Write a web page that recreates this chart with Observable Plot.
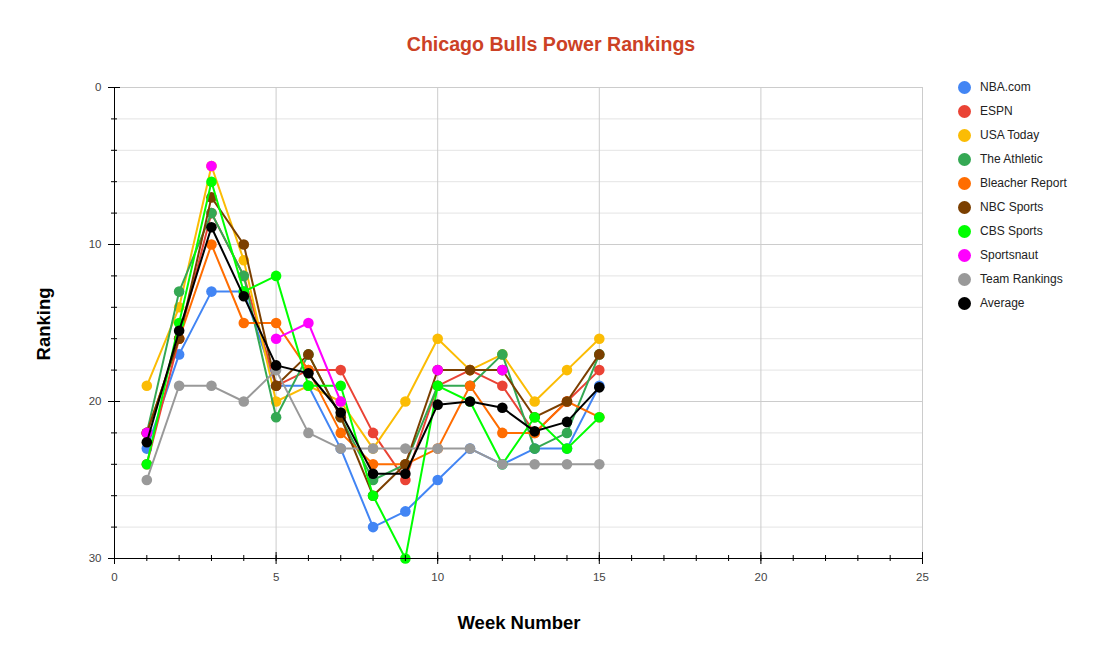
<!DOCTYPE html>
<html>
<head>
<meta charset="utf-8">
<script src="https://cdn.jsdelivr.net/npm/d3@7"></script>
<script src="https://cdn.jsdelivr.net/npm/@observablehq/plot@0.6"></script>
<style>
  html, body { margin: 0; padding: 0; background: #fff; }
  #wrap { position: relative; width: 1102px; height: 666px; font-family: "Liberation Sans", Arial, sans-serif; }
  #title { position: absolute; left: 0; width: 1102px; top: 33px; text-align: center; font-size: 19.6px; font-weight: bold; color: #cc4125; }
  #legend { position: absolute; left: 958px; top: 75px; font-size: 12px; color: #222; }
  #legend .row { height: 24px; display: flex; align-items: center; }
  #legend .sw { width: 13px; height: 13px; border-radius: 50%; margin-right: 9px; }
  #chart { position: absolute; left: 0; top: 0; }
</style>
</head>
<body>
<div id="wrap">
  <div id="chart"></div>
  <div id="title">Chicago Bulls Power Rankings</div>
  <div id="legend"></div>
</div>
<script>
const weeks = [1,2,3,4,5,6,7,8,9,10,11,12,13,14,15];
const seriesNames = ["NBA.com","ESPN","USA Today","The Athletic","Bleacher Report","NBC Sports","CBS Sports","Sportsnaut","Team Rankings","Average"];
const seriesColors = ["#4285f4","#ea4335","#fbbc04","#34a853","#ff6d01","#7b3f00","#00ff00","#ff00ff","#999999","#000000"];

const nbaCom        = [23,17,13,13,19,19,23,28,27,25,23,24,23,23,19];
const espn          = [24,16,8,12,19,18,18,22,25,19,18,19,22,20,18];
const usaToday      = [19,14,5,11,20,19,20,23,20,16,18,17,20,18,16];
const theAthletic   = [22,13,8,12,21,17,21,25,24,19,19,17,23,22,17];
const bleacherReport= [22,16,10,15,15,18,22,24,24,23,19,22,22,20,21];
const nbcSports     = [22,16,7,10,19,17,21,26,24,18,18,18,21,20,17];
const cbsSports     = [24,15,6,13,12,19,19,26,30,19,20,24,21,23,21];
const sportsnaut    = [22,null,5,null,16,15,20,null,null,18,null,18,null,null,null];
const teamRankings  = [25,19,19,20,18,22,23,23,23,23,23,24,24,24,24];
const average       = [22.6,15.5,8.9,13.3,17.7,18.2,20.7,24.6,24.6,20.2,20.0,20.4,21.9,21.3,19.1];

const xTickLabels = [0,5,10,15,20,25];
const yTickLabels = [0,10,20,30];

const seriesValues = [nbaCom,espn,usaToday,theAthletic,bleacherReport,nbcSports,cbsSports,sportsnaut,teamRankings,average];

const rows = [];
seriesNames.forEach((name, i) => {
  weeks.forEach((w, j) => {
    const v = seriesValues[i][j];
    rows.push({series: name, order: i, week: w, rank: v == null ? NaN : v});
  });
});

const color = {domain: seriesNames, range: seriesColors};

const marks = [
  Plot.ruleY(d3.range(2, 30, 2).filter(v => v % 10 !== 0), {stroke: "#e4e4e4", strokeWidth: 1}),
  Plot.ruleY([0, 10, 20], {stroke: "#cccccc", strokeWidth: 1}),
  Plot.ruleX([5, 10, 15, 20, 25], {stroke: "#cccccc", strokeWidth: 1}),
];

seriesNames.forEach((name, i) => {
  const d = rows.filter(r => r.order === i);
  marks.push(Plot.line(d, {x: "week", y: "rank", stroke: "series", strokeWidth: 2, curve: "linear"}));
  marks.push(Plot.dot(d.filter(r => !isNaN(r.rank)), {x: "week", y: "rank", fill: "series", r: 5.3, stroke: "none"}));
});

marks.push(
  Plot.ruleX([0], {stroke: "#000", strokeWidth: 1}),
  Plot.ruleY([30], {stroke: "#000", strokeWidth: 1}),
  Plot.axisX({ticks: d3.range(0, 26, 1), tickSize: 6, insetBottom: 3, tickFormat: () => "", stroke: "#000"}),
  Plot.axisY({ticks: d3.range(0, 31, 2), tickSize: 6, insetLeft: 3, tickFormat: () => "", stroke: "#000"}),
  Plot.axisX({ticks: [0,5,10,15,20,25], tickSize: 12, insetBottom: 6, tickFormat: () => "", stroke: "#000"}),
  Plot.axisY({ticks: [0,10,20,30], tickSize: 12, insetLeft: 6, tickFormat: () => "", stroke: "#000"}),
  Plot.axisX({ticks: xTickLabels, tickSize: 0, tickPadding: 14, fill: "#444", fontSize: 11.5, label: null}),
  Plot.axisY({ticks: yTickLabels, tickSize: 0, tickPadding: 13, fill: "#444", fontSize: 11.5, label: null})
);

const chart = Plot.plot({
  width: 1102,
  height: 666,
  marginLeft: 114,
  marginRight: 180,
  marginTop: 87,
  marginBottom: 108,
  style: {fontFamily: "Liberation Sans, Arial, sans-serif", fontSize: "11px", background: "transparent"},
  x: {domain: [0, 25], label: null},
  y: {domain: [0, 30], reverse: true, label: null},
  color,
  marks
});

const svg = d3.select(chart);
svg.append("text")
  .attr("x", 519).attr("y", 629)
  .attr("text-anchor", "middle")
  .attr("font-size", 18.5).attr("font-weight", "bold").attr("fill", "#000")
  .attr("font-family", "Liberation Sans, Arial, sans-serif")
  .text("Week Number");
svg.append("text")
  .attr("transform", "translate(50,324) rotate(-90)")
  .attr("text-anchor", "middle")
  .attr("font-size", 18.5).attr("font-weight", "bold").attr("fill", "#000")
  .attr("font-family", "Liberation Sans, Arial, sans-serif")
  .text("Ranking");

document.getElementById("chart").appendChild(chart);

const legend = document.getElementById("legend");
seriesNames.forEach((name, i) => {
  const row = document.createElement("div");
  row.className = "row";
  const sw = document.createElement("div");
  sw.className = "sw";
  sw.style.background = seriesColors[i];
  const t = document.createElement("span");
  t.textContent = name;
  row.appendChild(sw); row.appendChild(t);
  legend.appendChild(row);
});
</script>
</body>
</html>
